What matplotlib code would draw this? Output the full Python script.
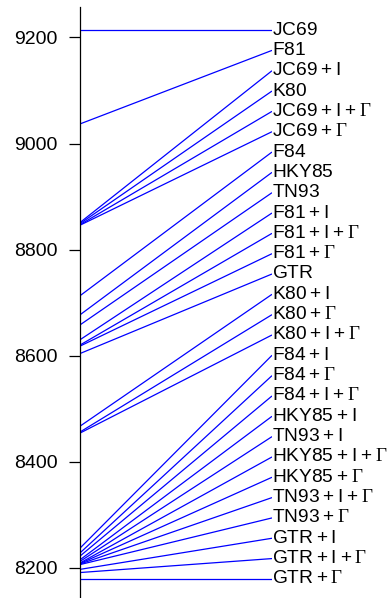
import numpy as np
import matplotlib
matplotlib.use("Agg")
import matplotlib.pyplot as plt

plt.rcParams["font.family"] = ["Liberation Sans", "DejaVu Sans"]
plt.rcParams["mathtext.fontset"] = "custom"
plt.rcParams["mathtext.rm"] = "Liberation Sans"
plt.rcParams["mathtext.sf"] = "Liberation Serif"

# model names and AIC values
models = ["JC69", "F81", "JC69+I", "K80", "JC69+I+G", "JC69+G",
          "F84", "HKY85", "TN93", "F81+I", "F81+I+G", "F81+G",
          "GTR", "K80+I", "K80+G", "K80+I+G",
          "F84+I", "F84+G", "F84+I+G", "HKY85+I", "TN93+I",
          "HKY85+I+G", "HKY85+G", "TN93+I+G", "TN93+G",
          "GTR+I", "GTR+I+G", "GTR+G"]
aic = [9214, 9037, 8851, 8849, 8847, 8846,
       8713, 8677, 8658, 8630, 8620, 8618,
       8604, 8467, 8456, 8454,
       8237, 8228, 8222, 8215, 8212,
       8209, 8208, 8207, 8206,
       8197, 8191, 8179]


def math_label(name):
    parts = name.split("+")
    out = []
    for p in parts:
        if p == "G":
            out.append(r"\mathsf{\Gamma}")
        else:
            out.append(r"\mathrm{%s}" % p)
    return "$" + "+".join(out) + "$"


fig = plt.figure(figsize=(3.87, 5.98), dpi=100)
ax = fig.add_axes([80 / 387, 0, 192 / 387, 1 - 7 / 598])

right = np.linspace(max(aic), min(aic), len(aic))
for a, r, name in zip(aic, right, models):
    ax.plot([0, 1], [a, r], color="#0000FF", lw=0.9, solid_capstyle="butt")
    ax.text(1.0, r, math_label(name), ha="left", va="center",
            fontsize=13.8, clip_on=False)

ax.set_xlim(0, 1)
ax.set_ylim(8143, 9257.5)
ax.set_yticks(np.arange(8200, 9201, 200))
ax.tick_params(axis="y", length=8, width=0.9, pad=8, labelsize=14)
ax.set_xticks([])
for s in ["top", "right", "bottom"]:
    ax.spines[s].set_visible(False)
ax.spines["left"].set_linewidth(0.9)

fig.savefig("out.png", dpi=100)
